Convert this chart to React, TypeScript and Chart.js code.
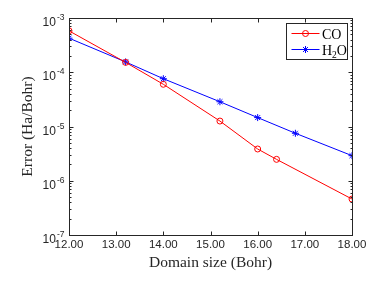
import React, { useEffect, useRef } from "react";
import { Chart, registerables } from "chart.js";

Chart.register(...registerables);

const xCO = [12, 13.2, 14, 15.2, 16, 16.4, 18];
const errCO = [5.8e-4, 1.52e-4, 6.0e-5, 1.26e-5, 3.85e-6, 2.48e-6, 4.6e-7];
const xH2O = [12, 13.2, 14, 15.2, 16, 16.8, 18];
const errH2O = [4.25e-4, 1.55e-4, 7.6e-5, 2.86e-5, 1.46e-5, 7.5e-6, 2.9e-6];
const xTicks = [12, 13, 14, 15, 16, 17, 18];
const yExponents = [-7, -6, -5, -4, -3];
const seriesNames = ["CO", "H2O"];

const AXIS = "#262626";
const RED = "#ff0000";
const BLUE = "#0000ff";
const SERIF = "'Liberation Serif', 'Times New Roman', serif";
const SANS = "'Liberation Sans', Arial, sans-serif";

function drawStar(ctx: CanvasRenderingContext2D, x: number, y: number, r: number) {
  ctx.beginPath();
  ctx.moveTo(x - r, y); ctx.lineTo(x + r, y);
  ctx.moveTo(x, y - r); ctx.lineTo(x, y + r);
  const d = r * 0.7071;
  ctx.moveTo(x - d, y - d); ctx.lineTo(x + d, y + d);
  ctx.moveTo(x - d, y + d); ctx.lineTo(x + d, y - d);
  ctx.stroke();
}

const framePlugin = {
  id: "frame",
  afterDraw(chart: any) {
    const { ctx, chartArea } = chart;
    const { left, right, top, bottom } = chartArea;
    const xs = chart.scales.x;
    const ys = chart.scales.y;
    ctx.save();
    ctx.strokeStyle = AXIS;
    ctx.lineWidth = 1;
    const L = Math.round(left) + 0.5, R = Math.round(right) + 0.5;
    const T = Math.round(top) + 0.5, B = Math.round(bottom) + 0.5;
    ctx.strokeRect(L, T, R - L, B - T);
    ctx.beginPath();
    for (const v of xTicks) {
      const px = Math.round(xs.getPixelForValue(v)) + 0.5;
      ctx.moveTo(px, B); ctx.lineTo(px, B - 4);
      ctx.moveTo(px, T); ctx.lineTo(px, T + 4);
    }
    for (const e of yExponents) {
      const py = Math.round(ys.getPixelForValue(Math.pow(10, e))) + 0.5;
      ctx.moveTo(L, py); ctx.lineTo(L + 4, py);
      ctx.moveTo(R, py); ctx.lineTo(R - 4, py);
      if (e < -3) {
        for (let m = 2; m <= 9; m++) {
          const pm = Math.round(ys.getPixelForValue(m * Math.pow(10, e))) + 0.5;
          ctx.moveTo(L, pm); ctx.lineTo(L + 2, pm);
          ctx.moveTo(R, pm); ctx.lineTo(R - 2, pm);
        }
      }
    }
    ctx.stroke();

    // y tick labels with superscripts
    ctx.fillStyle = AXIS;
    ctx.textBaseline = "alphabetic";
    for (const e of yExponents) {
      const py = ys.getPixelForValue(Math.pow(10, e));
      ctx.font = "8.5px " + SANS;
      const sup = String(e);
      const supW = ctx.measureText(sup).width;
      const endX = 64.5;
      ctx.textAlign = "left";
      ctx.fillText(sup, endX - supW, py + 2);
      ctx.font = "12px " + SANS;
      ctx.textAlign = "right";
      ctx.fillText("10", endX - supW - 1, py + 8);
    }

    // legend
    const bx = 286.5, by = 23.5, bw = 61, bh = 36;
    ctx.fillStyle = "#ffffff";
    ctx.fillRect(bx, by, bw, bh);
    ctx.strokeStyle = AXIS;
    ctx.strokeRect(bx, by, bw, bh);
    const rows = [
      { y: 33.5, color: RED, marker: "circle", label: seriesNames[0] },
      { y: 49.5, color: BLUE, marker: "star", label: seriesNames[1] },
    ];
    for (const r of rows) {
      ctx.strokeStyle = r.color;
      ctx.lineWidth = 1;
      ctx.beginPath();
      ctx.moveTo(291.5, r.y); ctx.lineTo(319.5, r.y);
      ctx.stroke();
      if (r.marker === "circle") {
        ctx.beginPath();
        ctx.arc(305.5, r.y, 3, 0, Math.PI * 2);
        ctx.stroke();
      } else {
        drawStar(ctx, 305.5, r.y, 3.5);
      }
      ctx.fillStyle = "#000000";
      ctx.textAlign = "left";
      ctx.textBaseline = "alphabetic";
      ctx.font = "14px " + SERIF;
      if (r.label === "H2O") {
        ctx.fillText("H", 322, r.y + 5);
        const wH = ctx.measureText("H").width;
        ctx.font = "9.5px " + SERIF;
        ctx.fillText("2", 322 + wH, r.y + 8);
        const w2 = ctx.measureText("2").width;
        ctx.font = "14px " + SERIF;
        ctx.fillText("O", 322 + wH + w2, r.y + 5);
      } else {
        ctx.fillText(r.label, 322, r.y + 5);
      }
    }
    ctx.restore();
  },
};

export default function App() {
  const ref = useRef<HTMLCanvasElement>(null);
  useEffect(() => {
    document.body.style.margin = "0";
    const canvas = ref.current!;
    const chart = new Chart(canvas, {
      type: "line",
      data: {
        datasets: [
          {
            label: seriesNames[0],
            data: xCO.map((x, i) => ({ x, y: errCO[i] })),
            borderColor: RED,
            backgroundColor: "rgba(0,0,0,0)",
            borderWidth: 1,
            pointStyle: "circle",
            pointRadius: 3,
            pointBorderColor: RED,
            pointBackgroundColor: "rgba(0,0,0,0)",
            pointBorderWidth: 1,
            tension: 0,
          },
          {
            label: seriesNames[1],
            data: xH2O.map((x, i) => ({ x, y: errH2O[i] })),
            borderColor: BLUE,
            backgroundColor: "rgba(0,0,0,0)",
            borderWidth: 1,
            pointStyle: "star",
            pointRadius: 3.5,
            pointBorderColor: BLUE,
            pointBackgroundColor: BLUE,
            pointBorderWidth: 1,
            tension: 0,
          },
        ],
      },
      plugins: [framePlugin],
      options: {
        responsive: false,
        animation: false,
        events: [],
        layout: { padding: { left: 0, top: 18, right: 30, bottom: 0 } },
        plugins: { legend: { display: false }, tooltip: { enabled: false } },
        scales: {
          x: {
            type: "linear",
            min: 12,
            max: 18,
            afterFit: (s: any) => { s.height = 52; },
            grid: { display: false, drawTicks: false },
            border: { display: false },
            ticks: {
              stepSize: 1,
              padding: 3,
              color: AXIS,
              font: { family: SANS, size: 11.5 },
              callback: (v: any) => Number(v).toFixed(2),
            },
            title: {
              display: true,
              text: "Domain size (Bohr)",
              color: AXIS,
              font: { family: SERIF, size: 15.5 },
              padding: { top: 0, bottom: 14.7 },
            },
          },
          y: {
            type: "logarithmic",
            min: 1e-7,
            max: 1e-3,
            afterFit: (s: any) => { s.width = 69; },
            grid: { display: false, drawTicks: false },
            border: { display: false },
            ticks: { display: false },
            title: {
              display: true,
              text: "Error (Ha/Bohr)",
              color: AXIS,
              font: { family: SERIF, size: 15.5 },
              padding: { top: 18.7, bottom: 0 },
            },
          },
        },
      },
    });
    return () => chart.destroy();
  }, []);
  return <canvas ref={ref} width={382} height={287} style={{ display: "block" }} />;
}
